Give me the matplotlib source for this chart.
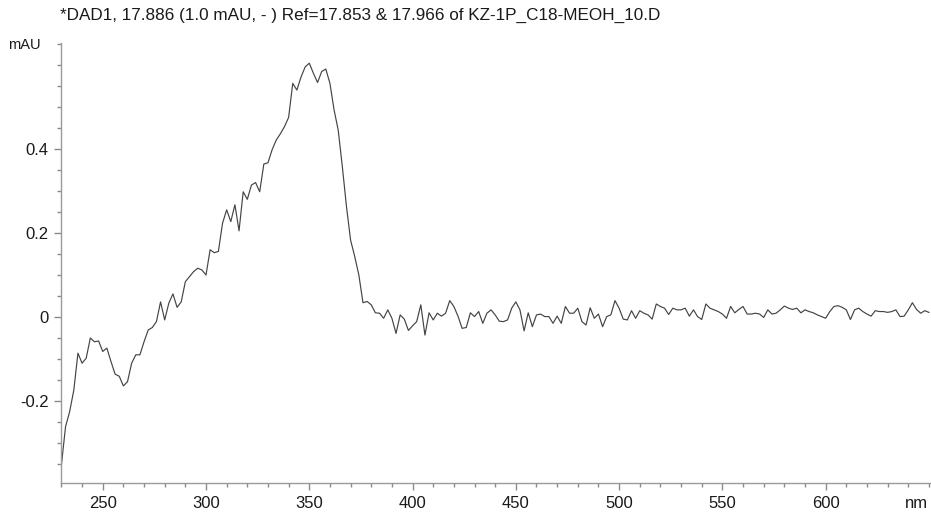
import numpy as np
import matplotlib
matplotlib.use("Agg")
import matplotlib.pyplot as plt
from matplotlib.ticker import MultipleLocator, FixedLocator, FuncFormatter

plt.rcParams['font.family'] = ['Liberation Sans', 'DejaVu Sans']

title = "*DAD1, 17.886 (1.0 mAU, - ) Ref=17.853 & 17.966 of KZ-1P_C18-MEOH_10.D"
y_unit = "mAU"
x_unit = "nm"

wavelength = np.arange(230, 652, 2)
absorbance = [
    -0.352, -0.261, -0.225, -0.174, -0.086, -0.110, -0.098, -0.050, -0.059, -0.057,
    -0.082, -0.074, -0.106, -0.136, -0.141, -0.164, -0.154, -0.110, -0.090, -0.090,
    -0.059, -0.031, -0.025, -0.011, 0.036, -0.007, 0.033, 0.055, 0.023, 0.036,
    0.084, 0.096, 0.108, 0.116, 0.112, 0.100, 0.160, 0.153, 0.156, 0.223,
    0.255, 0.227, 0.267, 0.205, 0.298, 0.280, 0.314, 0.320, 0.298, 0.364,
    0.367, 0.398, 0.421, 0.436, 0.453, 0.475, 0.556, 0.540, 0.571, 0.595,
    0.604, 0.580, 0.558, 0.584, 0.590, 0.556, 0.493, 0.445, 0.358, 0.263,
    0.183, 0.144, 0.100, 0.034, 0.037, 0.029, 0.010, 0.009, -0.003, 0.017,
    -0.003, -0.039, 0.005, -0.005, -0.032, -0.021, -0.011, 0.029, -0.043, 0.010,
    -0.007, 0.009, 0.002, 0.009, 0.039, 0.025, 0.002, -0.027, -0.025, 0.010,
    0.001, 0.013, -0.015, 0.009, 0.017, 0.005, -0.010, -0.011, -0.007, 0.021,
    0.036, 0.017, -0.033, 0.010, -0.023, 0.005, 0.007, 0.001, 0.001, -0.015,
    0.002, -0.015, 0.025, 0.009, 0.009, 0.021, -0.011, -0.019, 0.022, -0.003,
    0.007, -0.023, 0.001, 0.005, 0.039, 0.021, -0.005, -0.007, 0.015, -0.003,
    0.015, 0.009, 0.005, -0.005, 0.031, 0.025, 0.021, 0.006, 0.021, 0.017,
    0.017, 0.021, 0.002, 0.017, 0.001, -0.006, 0.031, 0.021, 0.017, 0.013,
    0.007, -0.003, 0.025, 0.010, 0.018, 0.025, 0.007, 0.007, 0.009, 0.007,
    -0.001, 0.017, 0.007, 0.009, 0.017, 0.026, 0.021, 0.018, 0.021, 0.010,
    0.017, 0.013, 0.010, 0.005, 0.001, -0.003, 0.013, 0.025, 0.027, 0.023,
    0.017, -0.006, 0.017, 0.021, 0.013, 0.007, 0.002, 0.015, 0.013, 0.013,
    0.011, 0.013, 0.017, 0.001, 0.002, 0.017, 0.034, 0.018, 0.009, 0.015,
    0.011,
]

y_major = [-0.2, 0.0, 0.2, 0.4]
x_major = [250, 300, 350, 400, 450, 500, 550, 600]

fig = plt.figure(figsize=(9.31, 5.14), dpi=100)
ax = fig.add_axes([61/931, 31/514, 870/931, 440/514])
ax.plot(wavelength, absorbance, color='#444444', lw=0.85)

ax.set_xlim(229.8, 651)
ax.set_ylim(-0.395, 0.652)

for s in ['top', 'right']:
    ax.spines[s].set_visible(False)
for s in ['left', 'bottom']:
    ax.spines[s].set_color('#9a9a9a')
    ax.spines[s].set_linewidth(1.0)

ax.xaxis.set_major_locator(FixedLocator(x_major))
ax.xaxis.set_minor_locator(MultipleLocator(10))
ax.yaxis.set_major_locator(FixedLocator(y_major))
ax.yaxis.set_minor_locator(MultipleLocator(0.05))

def yfmt(v, pos):
    if abs(v) < 1e-9:
        return "0"
    return ("%.1f" % v).replace("\u2212", "-")
ax.yaxis.set_major_formatter(FuncFormatter(yfmt))

ax.tick_params(axis='both', which='major', direction='out', length=5, width=1,
               color='#8a8a8a', labelsize=12, labelcolor='#1a1a1a', pad=4)
ax.tick_params(axis='both', which='minor', direction='out', length=3, width=1,
               color='#8a8a8a')

fig.text(60/931, 1 - 15/514, title, fontsize=12.3, color='#1a1a1a',
         ha='left', va='center')
fig.text(8/931, 1 - 45/514, y_unit, fontsize=10.5, color='#1a1a1a',
         ha='left', va='center')
fig.text(905/931, 1 - 504/514, x_unit, fontsize=12, color='#1a1a1a',
         ha='left', va='center')

fig.savefig("out.png", dpi=100)
